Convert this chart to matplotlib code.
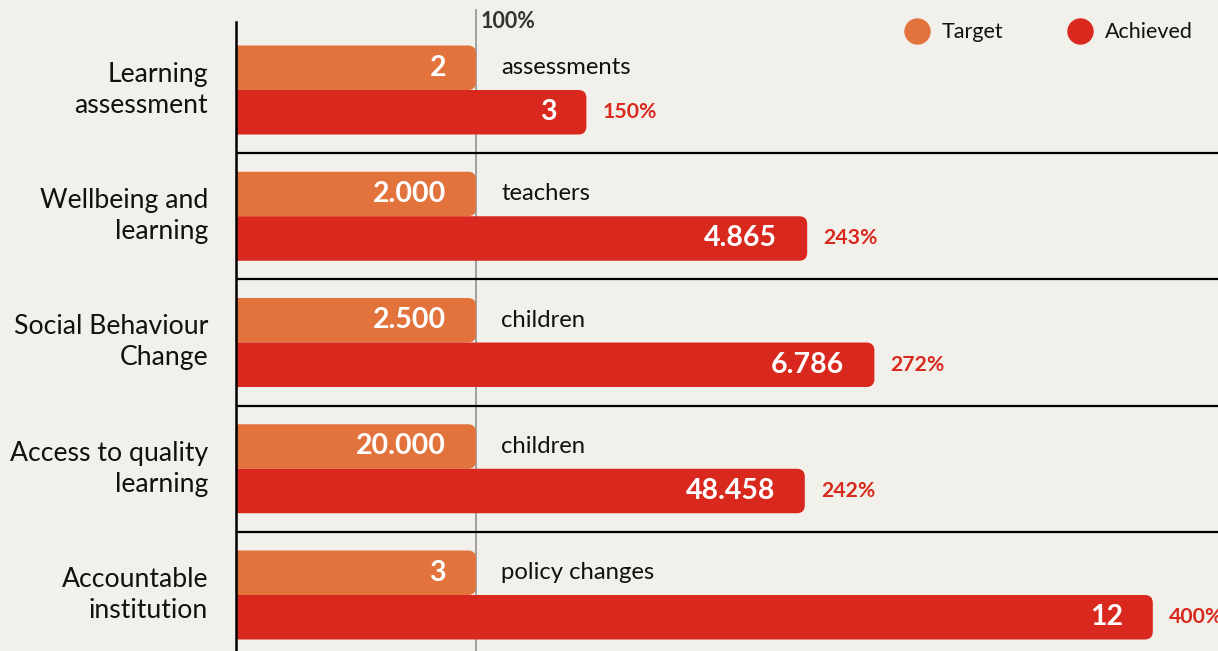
import matplotlib
matplotlib.use("Agg")
import matplotlib.pyplot as plt
from matplotlib.patches import FancyBboxPatch
from matplotlib.lines import Line2D

plt.rcParams['font.family'] = ['Lato', 'DejaVu Sans']

# ---- data ----
categories = ["Learning\nassessment", "Wellbeing and\nlearning", "Social Behaviour\nChange",
              "Access to quality\nlearning", "Accountable\ninstitution"]
target_labels = ["2", "2.000", "2.500", "20.000", "3"]
achieved_labels = ["3", "4.865", "6.786", "48.458", "12"]
units = ["assessments", "teachers", "children", "children", "policy changes"]
pct_labels = ["150%", "243%", "272%", "242%", "400%"]
target_len = [1.0, 1.0, 1.0, 1.0, 1.0]          # target = 100%
achieved_len = [1.46, 2.38, 2.66, 2.37, 3.82]   # bar lengths (target = 1)

# ---- style ----
BG = "#F2F0EB"
ORANGE = "#E3733D"
RED = "#D9291E"
W, H, DPI = 1218, 651, 100
PX_X = 240.0      # px per unit on x
PX_Y = 126.25     # px per group on y
LEFT_PX = 236
C0_PX = 90

fig = plt.figure(figsize=(W / DPI, H / DPI), dpi=DPI, facecolor=BG)
ax = fig.add_axes([LEFT_PX / W, 0, (W - LEFT_PX) / W, 1])
ax.set_facecolor(BG)
ax.set_xlim(0, (W - LEFT_PX) / PX_X)
ax.set_ylim((H - C0_PX) / PX_Y, -C0_PX / PX_Y)
ax.axis("off")

bar_h = 44.5 / PX_Y
aspect = PX_X / PX_Y
r = 8 / PX_X


def rbar(y0, length, color):
    p = FancyBboxPatch((-0.2, y0), length + 0.2, bar_h,
                       boxstyle=f"round,pad=0,rounding_size={r}",
                       mutation_aspect=aspect, fc=color, ec="none")
    ax.add_patch(p)


for i in range(len(categories)):
    rbar(i - bar_h, target_len[i], ORANGE)
    rbar(i, achieved_len[i], RED)
    # value labels
    ax.text(target_len[i] - 30 / PX_X, i - bar_h / 2, target_labels[i], color="white",
            fontsize=20.5, fontweight="bold", ha="right", va="center")
    ax.text(achieved_len[i] - 30 / PX_X, i + bar_h / 2, achieved_labels[i], color="white",
            fontsize=20.5, fontweight="bold", ha="right", va="center")
    # unit
    ax.text((501 - LEFT_PX) / PX_X, i - bar_h / 2, units[i], color="#111111",
            fontsize=17.2, ha="left", va="center")
    # pct
    ax.text(achieved_len[i] + 16 / PX_X, i + bar_h / 2, pct_labels[i], color=RED,
            fontsize=15.3, fontweight="bold", ha="left", va="center", clip_on=False)
    # category
    ax.text(-28 / PX_X, i, categories[i], color="#111111", fontsize=19.2,
            ha="right", va="center", linespacing=1.3, clip_on=False)

# separators
for i in range(len(categories) - 1):
    ax.axhline(i + 0.5, color="black", lw=1.6)

# left axis line and 100% line
ax.axvline(0, ymin=0, ymax=1 - 22 / H, color="black", lw=1.8, clip_on=False)
ax.axvline(1.0, ymin=0, ymax=1 - 10 / H, color="#999999", lw=1.3, zorder=0.5)
ax.text(1.0 + 5 / PX_X, -(C0_PX - 22) / PX_Y, "100%", color="#333333",
        fontsize=15.5, fontweight="bold", ha="left", va="center")

# legend
handles = [Line2D([], [], ls="none", marker="o", ms=19, mfc=ORANGE, mec="none", label="Target"),
           Line2D([], [], ls="none", marker="o", ms=19, mfc=RED, mec="none", label="Achieved")]
fig.legend(handles=handles, loc="upper right", bbox_to_anchor=(1212 / W, 1 - 3 / H),
           ncol=2, frameon=False, fontsize=15.5, handletextpad=0.53, columnspacing=3.0,
           handlelength=1.2, labelcolor="#111111")

fig.savefig("out.png", dpi=DPI, facecolor=BG)
